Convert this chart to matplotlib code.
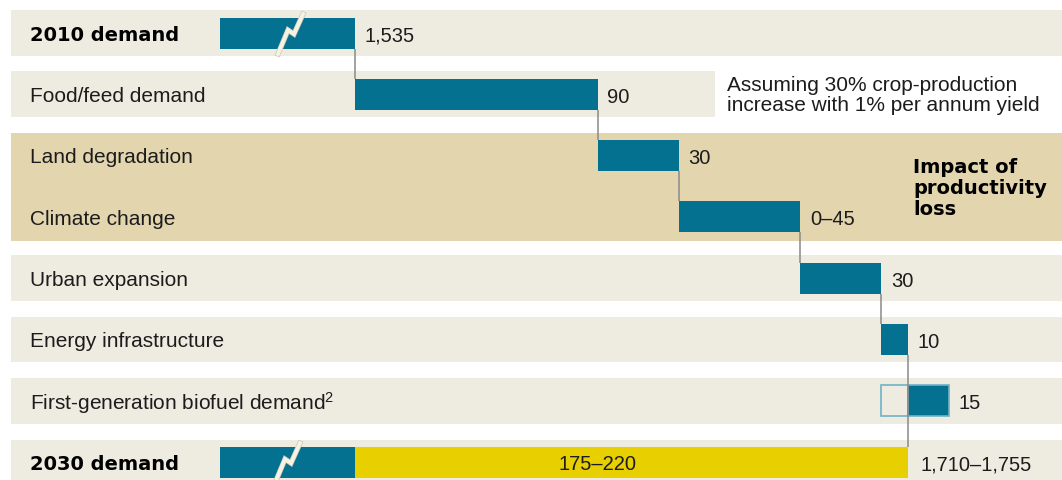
"""
    land_demand_waterfall.py
    Waterfall of cropland demand, 2010 to 2030
"""

import matplotlib.pyplot as plt
import matplotlib.transforms as mtransforms

# ---- data (million ha) ----
categories = [
    "2010 demand",
    "Food/feed demand",
    "Land degradation",
    "Climate change",
    "Urban expansion",
    "Energy infrastructure",
    "First-generation biofuel demand$^2$",
    "2030 demand",
]
start_2010 = 1535
increments = [90, 30, 45, 30, 10, 15]
biofuel_hollow = 10
total_2030 = 1740
value_labels = ["1,535", "90", "30", "0\u201345", "30", "10", "15", "1,710\u20131,755"]
range_label = "175\u2013220"
note = "Assuming 30% crop-production\nincrease with 1% per annum yield"
group_label = "Impact of\nproductivity\nloss"

# ---- style ----
TEAL = "#03718f"
EDGE = "#6fb2c6"
YELLOW = "#e8cf00"
BAND = "#eeebe1"
BAND_DARK = "#e3d5ae"
LINE = "#8a8a8a"
TXT = "#1c1c1c"
REG = "Liberation Sans"
BOLD = "DejaVu Sans"

plt.rcParams["mathtext.default"] = "regular"

BAR_H = 0.506
BAND_H = 0.75
AXIS_START = 1485  # where the broken bars begin
XLIM = (1403.5, 1796.9)
YLIM = (7.292, -0.555)

fig = plt.figure(figsize=(10.62, 4.81), dpi=100)
fig.patch.set_facecolor("white")
ax = fig.add_axes([0, 0, 1, 1])
ax.set_xlim(*XLIM)
ax.set_ylim(*YLIM)
ax.axis("off")

px_x = (XLIM[1] - XLIM[0]) / 1062
px_y = (YLIM[0] - YLIM[1]) / 481
left_frac = 11 / 1062

# background bands
for i in [0, 4, 5, 6]:
    ax.axhspan(i - BAND_H / 2, i + BAND_H / 2, xmin=left_frac, xmax=1, color=BAND, lw=0, zorder=0)
ax.axhspan(1 - BAND_H / 2, 1 + BAND_H / 2, xmin=left_frac, xmax=715 / 1062, color=BAND, lw=0, zorder=0)
ax.axhspan(7 - BAND_H / 2 + 0.01, 7.6, xmin=left_frac, xmax=1, color=BAND, lw=0, zorder=0)
ax.axhspan(2 - 0.37, 3 + 0.39, xmin=left_frac, xmax=1, color=BAND_DARK, lw=0, zorder=0)

# 2010 bar
ax.barh(0, start_2010 - AXIS_START, left=AXIS_START, height=BAR_H, color=TEAL, lw=0, zorder=2)

# step bars
lefts = []
pos = start_2010
for i, inc in enumerate(increments):
    row = i + 1
    lefts.append(pos)
    if row == 6:
        ax.barh(row, biofuel_hollow, left=pos - biofuel_hollow, height=BAR_H,
                facecolor=BAND, edgecolor=EDGE, lw=1.2, zorder=2)
        ax.barh(row, inc, left=pos, height=BAR_H, facecolor=TEAL,
                edgecolor=EDGE, lw=1.2, zorder=2)
    else:
        ax.barh(row, inc, left=pos, height=BAR_H, color=TEAL, lw=0, zorder=2)
    if row < 6:
        pos += inc

# 2030 bar
ax.barh(7, start_2010 - AXIS_START, left=AXIS_START, height=BAR_H, color=TEAL, lw=0, zorder=2)
ax.barh(7, total_2030 - start_2010, left=start_2010, height=BAR_H, color=YELLOW, lw=0, zorder=2)

# connectors
ax.vlines(start_2010, 0 + BAR_H / 2, 1 - BAR_H / 2, color=LINE, lw=1.1, zorder=1)
for i in range(4):
    x = lefts[i] + increments[i]
    ax.vlines(x, i + 1 + BAR_H / 2, i + 2 - BAR_H / 2, color=LINE, lw=1.1, zorder=1)
ax.vlines(total_2030, 5 + BAR_H / 2, 7 - BAR_H / 2, color=LINE, lw=1.1, zorder=3)

# break marks
zig = [(0, 21), (10, -3), (16, 1), (25, -19)]
for row, dx in [(0, 58), (7, 55)]:
    xs = [AXIS_START + (dx + p[0]) * px_x for p in zig]
    ys = [row + p[1] * px_y for p in zig]
    ax.plot(xs, ys, color="#cfcab9", lw=3.8, solid_joinstyle="miter", zorder=3)
    ax.plot(xs, ys, color="#f6f2e4", lw=2.7, solid_joinstyle="miter", zorder=4)

# row labels
trans = mtransforms.blended_transform_factory(ax.transAxes, ax.transData)
for i, cat in enumerate(categories):
    if i in (0, 7):
        ax.text(30 / 1062, i + 0.02, cat, transform=trans, va="center", ha="left",
                fontsize=14, fontweight="heavy", family=BOLD, color="black")
    else:
        ax.text(30 / 1062, i + 0.02, cat, transform=trans, va="center", ha="left",
                fontsize=15, family=REG, color=TXT)

# value labels
ends = [start_2010] + [l + inc for l, inc in zip(lefts, increments)] + [total_2030]
for i, (x, lab) in enumerate(zip(ends, value_labels)):
    ax.annotate(lab, (x, i + 0.03), xytext=(9.5 if i != 7 else 12, 0), textcoords="offset pixels",
                va="center", ha="left", fontsize=14.5, family=REG, color=TXT, zorder=5)

ax.text(start_2010 + increments[0], 7.02, range_label, ha="center", va="center",
        fontsize=14.5, family=REG, color=TXT, zorder=5)

ax.text(727 / 1062, 1.0, note, transform=trans, ha="left", va="center",
        fontsize=15, family=REG, color=TXT, linespacing=1.05)
ax.text(913 / 1062, 2.52, group_label, transform=trans, ha="left", va="center",
        fontsize=14, fontweight="heavy", family=BOLD, color="black", linespacing=1.15)

plt.savefig("out.png", dpi=100, facecolor="white")
